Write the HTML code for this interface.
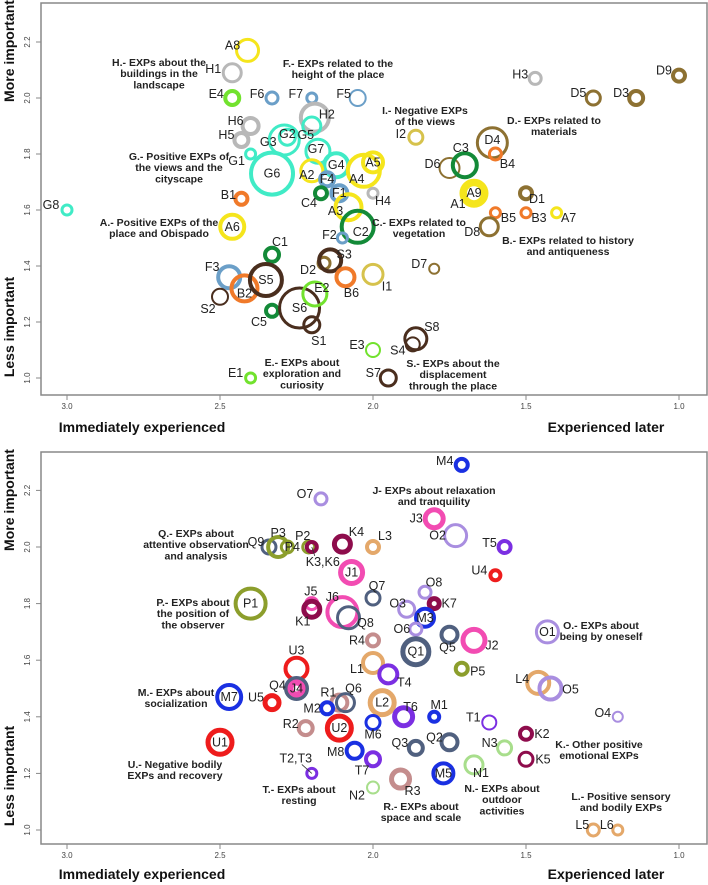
<!DOCTYPE html>
<html><head><meta charset="utf-8"><style>
body{margin:0;background:#fff;}
svg{display:block;font-family:"Liberation Sans",Arial,sans-serif;}
.ann{font-weight:bold;font-size:10.5px;fill:#222;text-anchor:middle;}
.lab{font-size:12.5px;fill:#222;text-anchor:middle;dominant-baseline:central;}
.tick{font-size:8px;fill:#444;}
.ax{font-weight:bold;font-size:14px;fill:#111;}
</style></head><body>
<svg id="chart" width="708" height="885" viewBox="0 0 708 885" xmlns="http://www.w3.org/2000/svg"></svg>
<script>
// ---- top panel data ----
const topNames=["A8","H1","E4","F6","F7","F5","H2","H6","H5","G3","G2","G5","G7","G1","G6","G4","A2","A4","A5","F4","F1","C4","H4","A3","C2","F2","B1","A6","G8","C1","F3","B2","S5","S2","C5","S6","E2","S1","D2","S3","B6","E1","I1","D7","E3","S8","S4","S7","B5","B3","A7","D8","A1","A9","D1","D6","C3","D4","B4","I2","H3","D5","D3","D9"];
const topX=[2.41,2.46,2.46,2.33,2.20,2.05,2.19,2.40,2.43,2.29,2.28,2.20,2.18,2.40,2.33,2.12,2.20,2.03,2.00,2.15,2.11,2.17,2.00,2.08,2.05,2.10,2.43,2.46,3.00,2.33,2.47,2.42,2.35,2.50,2.33,2.24,2.19,2.20,2.16,2.14,2.09,2.40,2.00,1.80,2.00,1.86,1.87,1.95,1.60,1.50,1.40,1.62,1.67,1.67,1.50,1.75,1.70,1.61,1.60,1.86,1.47,1.28,1.14,1.00];
const topY=[2.17,2.09,2.00,2.00,2.00,2.00,1.93,1.90,1.85,1.85,1.86,1.90,1.81,1.80,1.73,1.76,1.74,1.74,1.77,1.71,1.66,1.66,1.66,1.61,1.54,1.50,1.64,1.54,1.60,1.44,1.36,1.32,1.35,1.29,1.24,1.25,1.30,1.19,1.41,1.42,1.36,1.00,1.37,1.39,1.10,1.14,1.12,1.00,1.59,1.59,1.59,1.54,1.66,1.66,1.66,1.75,1.76,1.84,1.80,1.86,2.07,2.00,2.00,2.08];
const topSize=[11,9,7,6,5,8,14,8,7,15,8,9,12,5,21,12,11,16,10,7,8,6,5,13,16,5,6,12,5,7,11,13,16,8,6,20,12,8,6,11,9,5,10,5,7,11,7,8,5,5,5,9,13,10,6,10,12,15,6,7,6,7,7,6];
// ---- bottom panel data ----
const botNames=["O7","Q9","P3","P4","P2","K3,K6","K4","J1","J5","K1","J6","Q8","P1","Q7","L3","M4","J3","O2","T5","U4","O8","K7","O3","M3","O6","Q5","J2","R4","Q1","O1","L1","T4","P5","L4","O5","O4","U3","Q4","J4","M7","U5","R1","Q6","M2","U2","R2","U1","L2","T6","M1","T1","M6","K2","N3","K5","Q2","Q3","M8","T7","M5","N1","R3","N2","T2,T3","L5","L6"];
const botX=[2.17,2.34,2.31,2.28,2.21,2.20,2.10,2.07,2.20,2.20,2.10,2.08,2.40,2.00,2.00,1.71,1.80,1.73,1.57,1.60,1.83,1.80,1.89,1.83,1.86,1.75,1.67,2.00,1.86,1.43,2.00,1.95,1.71,1.46,1.42,1.20,2.25,2.25,2.25,2.47,2.33,2.11,2.09,2.15,2.11,2.22,2.50,1.97,1.90,1.80,1.62,2.00,1.50,1.57,1.50,1.75,1.86,2.06,2.00,1.77,1.67,1.91,2.00,2.20,1.28,1.20];
const botY=[2.17,2.00,2.00,2.00,2.00,2.00,2.01,1.91,1.80,1.78,1.77,1.75,1.80,1.82,2.00,2.29,2.10,2.04,2.00,1.90,1.84,1.80,1.78,1.75,1.71,1.69,1.67,1.67,1.63,1.70,1.59,1.55,1.57,1.52,1.50,1.40,1.57,1.50,1.50,1.47,1.45,1.45,1.45,1.43,1.36,1.36,1.31,1.45,1.40,1.40,1.38,1.38,1.34,1.29,1.25,1.31,1.29,1.28,1.25,1.20,1.23,1.18,1.15,1.20,1.00,1.00];
const botSize=[6,7,10,6,6,5,8,11,6,8,15,11,15,7,6,6,9,11,6,5,6,5,8,9,6,8,11,6,13,11,10,9,6,11,11,5,11,10,6,12,7,8,9,6,12,7,12,12,9,5,7,7,6,7,7,8,7,8,7,10,9,9,6,5,6,5];
const xTicks=["3.0","2.5","2.0","1.5","1.0"];
const yTicks=["1.0","1.2","1.4","1.6","1.8","2.0","2.2"];

// ---- styles (not data) ----
const topW=[3,3,4,3,3,2,4,4,4,3,3,3,3,3,4,4,3,4,4,4,4,4,3,4,4,3,4,4,3,4,4,4,4,2,4,3,3,3,3,4,4,3,3,2,2,3,2,3,3,3,3,3,3,6,4,2,4,3,3,3,3,3,4,4];
const topDX=[-15,-19,-16,-15,-16,-14,12,-15,-15,-16,0,-6,-2,-14,0,0,-5,-7,0,0,0,-12,10,-13,3,-13,-13,0,-16,8,-17,0,0,-12,-13,0,7,7,-16,14,6,-15,14,-15,-16,16,-15,-15,13,13,12,-17,-16,0,11,-17,-4,0,12,-15,-15,-15,-15,-15];
const topDY=[-5,-4,-4,-4,-4,-4,-3,-5,-5,2,-3,9,-2,7,0,0,4,8,0,0,0,10,8,4,5,-3,-4,0,-5,-13,-10,5,0,12,11,0,-6,16,7,-6,16,-5,12,-5,-5,-12,6,-5,5,5,5,5,11,0,6,-4,-17,-3,10,-3,-4,-5,-5,-5];
const botW=[3,3,4,3,3,4,5,5,3,5,4,3,4,3,4,4,5,3,4,4,3,5,3,4,3,4,5,4,5,3,4,4,4,4,4,2,4,5,6,4,5,4,3,4,5,4,5,5,5,4,2,3,4,3,3,4,4,4,4,4,3,5,2,3,3,3];
const botDX=[-16,-13,0,5,-6,11,14,0,-1,-9,-10,17,0,4,12,-17,-18,-18,-15,-16,9,15,-9,0,-14,-2,18,-16,0,0,-16,16,16,-16,20,-15,0,-19,0,0,-16,-11,8,-15,0,-15,0,0,7,5,-16,0,16,-15,17,-15,-16,-19,-11,0,7,12,-16,-16,-11,-11];
const botDY=[-5,-5,-14,0,-11,15,-12,0,-12,12,-15,5,0,-12,-11,-4,0,0,-4,-5,-10,0,-6,0,0,13,5,0,0,0,6,8,3,-4,1,-4,-18,-3,0,0,-5,-10,-14,0,0,-4,0,0,-10,-12,-5,12,0,-5,0,-5,-5,1,11,0,8,12,8,-15,-5,-5];
const colors={A:"#f5e51c",B:"#f07a2a",C:"#138a38",D:"#8d7132",E:"#72e22e",F:"#6b9fc8",G:"#40ebc6",H:"#b8b8b8",I:"#d6c24c",S:"#4a2e1e",
J:"#f24cb2",K:"#8e0c4c",L:"#e4a86a",M:"#1a30e2",N:"#a8de8c",O:"#a98ee0",P:"#8c9e2c",Q:"#50607f",R:"#c48d8d",T:"#7b2fe2",U:"#ee1c1c"};

const NS="http://www.w3.org/2000/svg";
const svg=document.getElementById('chart');
function mk(tag,attrs,parent){const e=document.createElementNS(NS,tag);for(const k in attrs)e.setAttribute(k,attrs[k]);(parent||svg).appendChild(e);return e;}
const xS=v=>373-(v-2)*306;
const panels=[
 {id:"top",box:[41,3,707,395],yS:v=>98-(v-2)*280,names:topNames,xs:topX,ys:topY,rs:topSize,ws:topW,dx:topDX,dy:topDY,tickY:409,titleY:427},
 {id:"bottom",box:[41,452,707,844],yS:v=>547-(v-2)*283,names:botNames,xs:botX,ys:botY,rs:botSize,ws:botW,dx:botDX,dy:botDY,tickY:858,titleY:874}
];
panels.forEach(p=>{
  const g=mk('g',{});
  
  
  const [x0,y0,x1,y1]=p.box;
  const fr=mk('rect',{x:x0,y:y0,width:x1-x0,height:y1-y0,fill:'none',stroke:'#888','stroke-width':1.5},g);
  
  
  xTicks.forEach(t=>{const X=xS(parseFloat(t));
    const l=mk('line',{x1:X,x2:X,y1:y1,y2:y1+5,stroke:'#888'},g);
    
    
    const tx=mk('text',{x:X,y:p.tickY,class:'tick','text-anchor':'middle'},g);tx.textContent=t;
    
    
  });
  yTicks.forEach(t=>{const Y=p.yS(parseFloat(t));
    const l=mk('line',{x1:x0-5,x2:x0,y1:Y,y2:Y,stroke:'#888'},g);
    
    
    const tx=mk('text',{x:30,y:Y,class:'tick','text-anchor':'middle',transform:`rotate(-90 30 ${Y})`},g);tx.textContent=t;
    
    
  });
  const t1=mk('text',{x:142,y:p.titleY,class:'ax','text-anchor':'middle','dominant-baseline':'central'},g);t1.textContent='Immediately experienced';
  
  
  const t2=mk('text',{x:606,y:p.titleY,class:'ax','text-anchor':'middle','dominant-baseline':'central'},g);t2.textContent='Experienced later';
  
  
  const ym=y0+48, yl=y0+324;
  const t3=mk('text',{x:9,y:ym,class:'ax','text-anchor':'middle','dominant-baseline':'central',transform:`rotate(-90 9 ${ym})`},g);t3.textContent='More important';
  
  
  const t4=mk('text',{x:9,y:yl,class:'ax','text-anchor':'middle','dominant-baseline':'central',transform:`rotate(-90 9 ${yl})`},g);t4.textContent='Less important';
  
  
  p.names.forEach((n,i)=>{
    const cx=xS(p.xs[i]), cy=p.yS(p.ys[i]);
    const c=mk('circle',{cx:cx,cy:cy,r:p.rs[i],fill:'none',stroke:colors[n[0]],'stroke-width':p.ws[i]},g);
    
    
  });
  p.names.forEach((n,i)=>{
    const cx=xS(p.xs[i]), cy=p.yS(p.ys[i]);
    const lx=cx+p.dx[i], ly=cy+p.dy[i];
    if(n.indexOf(',')>0){
      const ln=mk('line',{x1:lx+(p.dx[i]>0?-8:6),y1:ly+(p.dy[i]>0?-6:6),x2:cx,y2:cy,stroke:'#333','stroke-width':0.8},g);
      
      
    }
    const t=mk('text',{x:lx,y:ly,class:'lab'},g);t.textContent=n;
    
    
  });
});
const anns=[
 [159,62,["H.- EXPs about the","buildings in the","landscape"]],
 [338,63,["F.- EXPs related to the","height of the place"]],
 [425,110,["I.- Negative EXPs","of the views"]],
 [554,120,["D.- EXPs related to","materials"]],
 [179,156,["G.- Positive EXPs of","the views and the","cityscape"]],
 [159,222,["A.- Positive EXPs of the","place and Obispado"]],
 [419,222,["C.- EXPs related to","vegetation"]],
 [568,240,["B.- EXPs related to history","and antiqueness"]],
 [302,362,["E.- EXPs about","exploration and","curiosity"]],
 [453,363,["S.- EXPs about the","displacement","through the place"]],
 [196,533,["Q.- EXPs about","attentive observation","and analysis"]],
 [193,602,["P.- EXPs about","the position of","the observer"]],
 [176,692,["M.- EXPs about","socialization"]],
 [175,764,["U.- Negative bodily","EXPs and recovery"]],
 [299,789,["T.- EXPs about","resting"]],
 [434,490,["J- EXPs about relaxation","and tranquility"]],
 [601,625,["O.- EXPs about","being by oneself"]],
 [599,744,["K.- Other positive","emotional EXPs"]],
 [421,806,["R.- EXPs about","space and scale"]],
 [502,788,["N.- EXPs about","outdoor","activities"]],
 [621,796,["L.- Positive sensory","and bodily EXPs"]]
];
anns.forEach(a=>{
  const t=mk('text',{x:a[0],y:a[1]+4,class:'ann'});
  
  
  a[2].forEach((s,k)=>{const sp=mk('tspan',{x:a[0],dy:k?11.2:0},t);sp.textContent=s;});
});
</script>
</body></html>
